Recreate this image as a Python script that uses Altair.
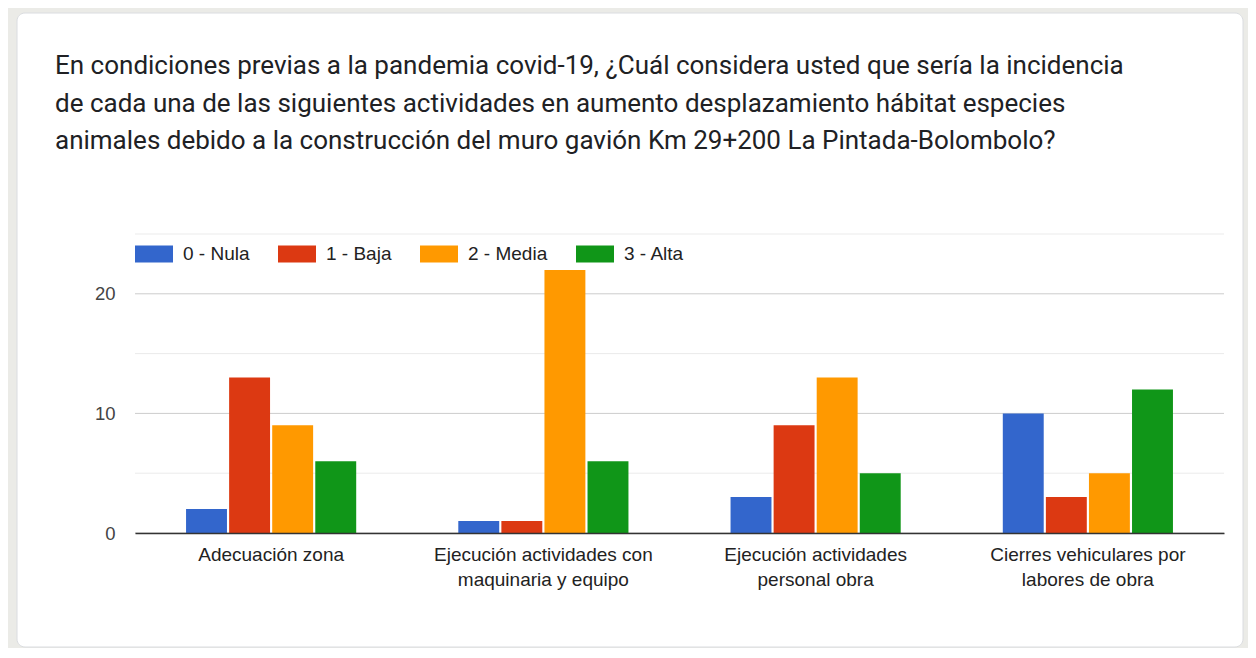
import json
import altair as alt
import pandas as pd

TITLE_LINES = [
    "En condiciones previas a la pandemia covid-19, ¿Cuál considera usted que sería la incidencia",
    "de cada una de las siguientes actividades en aumento desplazamiento hábitat especies",
    "animales debido a la construcción del muro gavión Km 29+200 La Pintada-Bolombolo?",
]
CATEGORIES = [
    "Adecuación zona",
    "Ejecución actividades con maquinaria y equipo",
    "Ejecución actividades personal obra",
    "Cierres vehiculares por labores de obra",
]
CATEGORY_LINES = [
    ["Adecuación zona"],
    ["Ejecución actividades con", "maquinaria y equipo"],
    ["Ejecución actividades", "personal obra"],
    ["Cierres vehiculares por", "labores de obra"],
]
LEVELS = ["0 - Nula", "1 - Baja", "2 - Media", "3 - Alta"]
COLORS = ["#3366cc", "#dc3912", "#ff9900", "#109618"]
NULA = [2, 1, 3, 10]
BAJA = [13, 1, 9, 3]
MEDIA = [9, 22, 13, 5]
ALTA = [6, 6, 5, 12]
Y_LABELS = [0, 10, 20]
GRID_MAJOR = [0, 10, 20]
GRID_MINOR = [5, 15, 25]
Y_DOMAIN = [0, 25]

rows = []
for series, level in zip([NULA, BAJA, MEDIA, ALTA], LEVELS):
    for cat, v in zip(CATEGORIES, series):
        rows.append({"categoria": cat, "nivel": level, "valor": v})
df = pd.DataFrame(rows)

label_map = json.dumps(dict(zip(CATEGORIES, CATEGORY_LINES)), ensure_ascii=False)

W, H = 1089, 299
PAD = {"left": 127, "top": 226, "right": 24, "bottom": 115}

Y_SCALE = alt.Scale(domain=Y_DOMAIN, nice=False)
Y_AXIS = alt.Axis(
    title=None, values=Y_LABELS, grid=False, domain=False, ticks=False,
    tickSize=0, labelFont="Arial", labelFontSize=18.5, labelColor="#444444",
    labelPadding=20, zindex=1,
)

card = alt.Chart(alt.Data(values=[{"c": 1}])).mark_rect(
    fill="#ffffff", stroke="#dadce0", strokeWidth=1, cornerRadius=8
).encode(
    x=alt.value(-118), x2=alt.value(1108), y=alt.value(-221), y2=alt.value(413)
)

minor = alt.Chart(pd.DataFrame({"v": GRID_MINOR})).mark_rule(
    color="#ebebeb", strokeWidth=1
).encode(y=alt.Y("v:Q", scale=Y_SCALE, axis=Y_AXIS))

major = alt.Chart(pd.DataFrame({"v": GRID_MAJOR})).mark_rule(
    color="#cccccc", strokeWidth=1
).encode(y=alt.Y("v:Q", scale=Y_SCALE, axis=Y_AXIS))

bars = alt.Chart(df).mark_bar().encode(
    x=alt.X(
        "categoria:N",
        sort=CATEGORIES,
        scale=alt.Scale(paddingInner=0.375, paddingOuter=0.1875),
        axis=alt.Axis(
            title=None, labelAngle=0, ticks=False, tickSize=0,
            domainColor="#333333", domainWidth=1.5,
            labelFont="Arial", labelFontSize=19, labelColor="#222222",
            labelPadding=12, labelLineHeight=25, labelLimit=0,
            labelExpr=label_map + "[datum.value]", zindex=1,
        ),
    ),
    xOffset=alt.XOffset(
        "nivel:N", sort=LEVELS, scale=alt.Scale(paddingInner=0.05, paddingOuter=0)
    ),
    y=alt.Y("valor:Q", scale=Y_SCALE, axis=Y_AXIS),
    color=alt.Color(
        "nivel:N",
        sort=LEVELS,
        scale=alt.Scale(domain=LEVELS, range=COLORS),
        legend=alt.Legend(
            title=None, orient="none", legendX=0, legendY=1,
            direction="horizontal",
            symbolType="M-1,-0.447L1,-0.447L1,0.447L-1,0.447Z",
            symbolSize=1444, symbolStrokeWidth=0, symbolOpacity=1,
            labelFont="Arial", labelFontSize=19, labelColor="#222222",
            labelOffset=10, columnPadding=28, padding=0, zindex=2,
        ),
    ),
)

title = alt.Chart(alt.Data(values=[{"t": 1}])).mark_text(
    text=TITLE_LINES, align="left", baseline="alphabetic",
    font="Roboto", fontSize=26, color="#202124", lineHeight=37.5,
).encode(x=alt.value(-80), y=alt.value(-160))

chart = alt.layer(card, minor, major, bars, title).properties(
    width=W, height=H, padding=PAD,
    autosize=alt.AutoSizeParams(type="none"),
    background="#ebebe7",
).configure_view(stroke=None)

chart.save("out.html", embed_options={"renderer": "svg", "actions": False})
